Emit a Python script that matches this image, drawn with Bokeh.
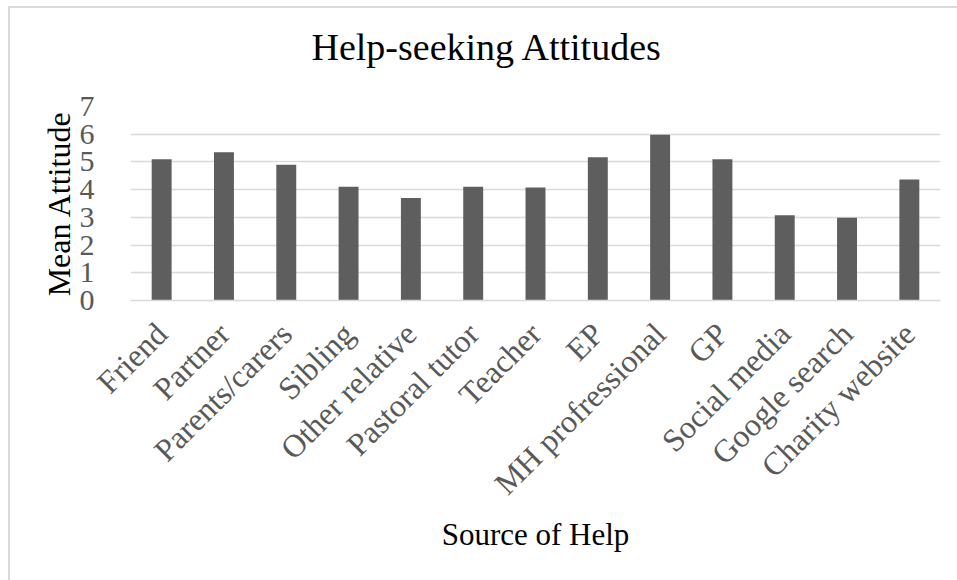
import math
from bokeh.plotting import figure
from bokeh.models import Range1d, FactorRange, ColumnDataSource, FixedTicker, Title
from bokeh.embed import file_html
from bokeh.resources import INLINE

categories = ["Friend", "Partner", "Parents/carers", "Sibling", "Other relative",
              "Pastoral tutor", "Teacher", "EP", "MH profressional", "GP",
              "Social media", "Google search", "Charity website"]
values = [5.1, 5.35, 4.9, 4.1, 3.7, 4.1, 4.08, 5.17, 5.98, 5.1, 3.08, 2.99, 4.37]
y_ticks = [0, 1, 2, 3, 4, 5, 6, 7]

FONT = "Liberation Serif"

p = figure(width=957, height=580,
           x_range=FactorRange(*categories, range_padding=0),
           y_range=Range1d(0, 7),
           output_backend="svg", toolbar_location=None,
           min_border_left=130, min_border_right=17,
           min_border_top=106, min_border_bottom=280,
           background_fill_color="white", border_fill_color="white")

src = ColumnDataSource(dict(cat=categories, val=values))
p.vbar(x="cat", top="val", width=0.32, source=src, fill_color="#5e5e5e", line_color=None)

# empty spacer between the frame and the chart title
p.add_layout(Title(text=" ", text_font_size="1px", standoff=16), "above")

p.title.text = "Help-seeking Attitudes"
p.title.text_font = FONT
p.title.text_font_size = "38px"
p.title.text_font_style = "normal"
p.title.text_color = "#000000"
p.title.align = "left"
p.title.offset = 181
p.title.standoff = 40

p.outline_line_color = None
p.xgrid.grid_line_color = None
p.ygrid.grid_line_color = "#d9d9d9"
p.ygrid.grid_line_width = 1.5

p.yaxis.ticker = FixedTicker(ticks=y_ticks)
p.yaxis.axis_line_color = None
p.yaxis.major_tick_line_color = None
p.yaxis.minor_tick_line_color = None
p.yaxis.major_label_text_font = FONT
p.yaxis.major_label_text_font_size = "30px"
p.yaxis.major_label_text_color = "#595959"
p.yaxis.major_label_standoff = 30
p.yaxis.axis_label = "Mean Attitude"
p.yaxis.axis_label_text_font = FONT
p.yaxis.axis_label_text_font_size = "32px"
p.yaxis.axis_label_text_font_style = "normal"
p.yaxis.axis_label_text_color = "#000000"
p.yaxis.axis_label_standoff = 0

p.xaxis.axis_line_color = "#d9d9d9"
p.xaxis.axis_line_width = 1.5
p.xaxis.major_tick_line_color = None
p.xaxis.minor_tick_line_color = None
p.xaxis.major_label_orientation = math.pi / 4
p.xaxis.major_label_text_font = FONT
p.xaxis.major_label_text_font_size = "32px"
p.xaxis.major_label_text_color = "#595959"
p.xaxis.major_label_standoff = 22
p.xaxis.axis_label = "Source of Help"
p.xaxis.axis_label_text_font = FONT
p.xaxis.axis_label_text_font_size = "31px"
p.xaxis.axis_label_text_font_style = "normal"
p.xaxis.axis_label_text_color = "#000000"
p.xaxis.axis_label_standoff = 0

p.stylesheets = [
    ":host::after { content: ''; position: absolute; left: 8px; top: 6px; "
    "width: 2000px; height: 2000px; border-left: 2px solid #d9d9d9; "
    "border-top: 2px solid #d9d9d9; pointer-events: none; }"
]

open("out.html", "w").write(file_html(p, INLINE))
